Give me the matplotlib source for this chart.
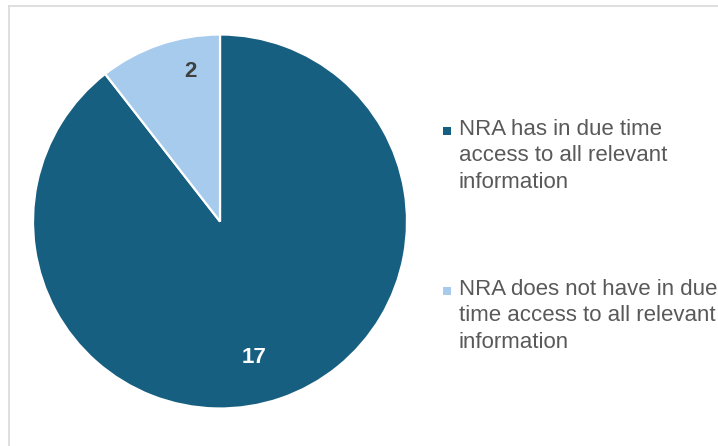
import matplotlib.pyplot as plt
from matplotlib.lines import Line2D
from matplotlib.patches import Rectangle
import numpy as np

plt.rcParams['font.family'] = ['Liberation Sans', 'DejaVu Sans']

labels = ['NRA has in due time\naccess to all relevant\ninformation',
          'NRA does not have in due\ntime access to all relevant\ninformation']
values = [17, 2]
colors = ['#175f80', '#a7cbec']
value_colors = ['white', '#404040']
# where Excel put the data labels: (fraction of radius, angle in degrees)
label_pos = [(0.75, -76), (0.815, 101)]

W, H = 718, 446
fig = plt.figure(figsize=(W / 100, H / 100), dpi=100)

# pie placed in pixel terms: centre (220, 221.5), radius 187
cx, cy, r = 220, 221.5, 187
ax = fig.add_axes([(cx - r) / W, (H - cy - r) / H, 2 * r / W, 2 * r / H])
ax.pie(values, colors=colors, startangle=90, counterclock=False,
       wedgeprops=dict(edgecolor='white', linewidth=1.6))
ax.set_xlim(-1, 1)
ax.set_ylim(-1, 1)
ax.set_aspect('equal')

for v, c, (fr, ang) in zip(values, value_colors, label_pos):
    a = np.deg2rad(ang)
    ax.text(fr * np.cos(a), fr * np.sin(a), str(v), color=c,
            fontsize=16, fontweight='bold', ha='center', va='center')

# legend drawn by hand so the marker sits on the first line
for i, (lab, col) in enumerate(zip(labels, colors)):
    y0 = 131 + 160 * i
    fig.patches.append(Rectangle((443 / W, 1 - (y0 + 4) / H), 8 / W, 8 / H,
                                 transform=fig.transFigure, facecolor=col,
                                 edgecolor='none'))
    # va='baseline' pins the last line, which sits two lines below the first
    fig.text(459 / W, 1 - (y0 + 57) / H, lab, fontsize=16, color='#595959',
             ha='left', va='baseline', linespacing=1.35)

# chart area frame (only top and left edges visible)
fig.lines.append(Line2D([8.5 / W, 1], [1 - 5.5 / H, 1 - 5.5 / H],
                        transform=fig.transFigure, color='#d9d9d9', lw=1.2))
fig.lines.append(Line2D([8.5 / W, 8.5 / W], [0, 1 - 5.5 / H],
                        transform=fig.transFigure, color='#d9d9d9', lw=1.2))

fig.savefig('out.png', dpi=100, facecolor='white')
